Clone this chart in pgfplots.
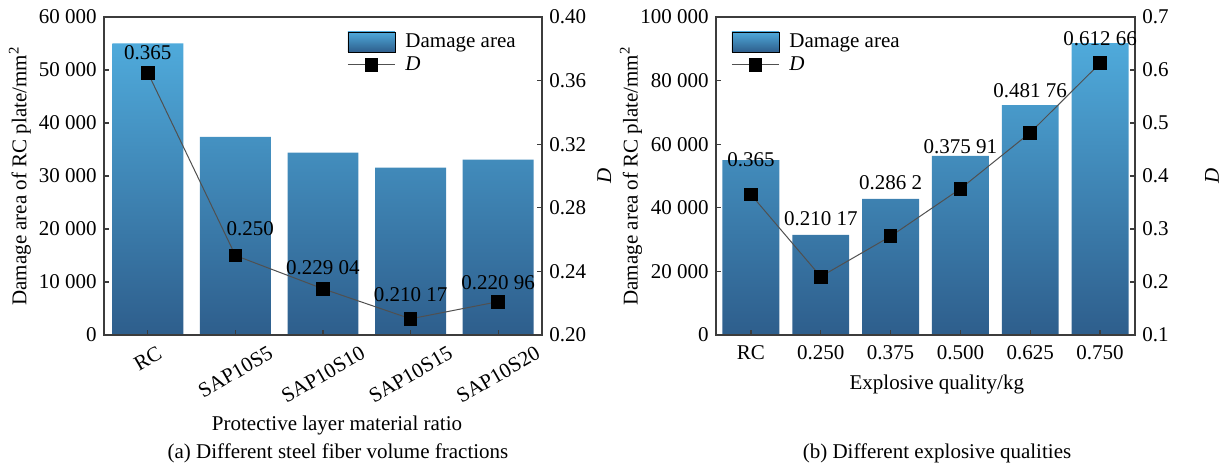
\documentclass[border=0pt]{standalone}
\usepackage{fontspec}
\setmainfont{Liberation Serif}
\usepackage{graphicx}
\usepackage{pgfplots}
\pgfplotsset{compat=1.18}
\definecolor{barTop}{RGB}{79,170,219}
\definecolor{barBot}{RGB}{46,94,140}
\definecolor{axgray}{RGB}{60,60,60}
\definecolor{lineGray}{RGB}{80,80,80}
\newcommand\fs{\fontsize{10.5}{12.6}\selectfont}
\pgfplotsset{
  base/.style={
    anchor=south west, scale only axis, height=159pt,
    scaled x ticks=false, scaled y ticks=false,
    axis line style={axgray, line width=0.65pt},
    major tick style={axgray, line width=0.65pt}, major tick length=2.6pt,
    tick align=inside,
    tick label style={font=\fs},
    label style={font=\fs},
    legend style={font=\fs, draw=none, fill=none, anchor=north west, cells={anchor=west}, row sep=-1pt, inner sep=0pt},
  },
  barlegend/.style={legend image code/.code={\fill[top color=barTop,bottom color=barBot] (0pt,-5pt) rectangle (23.5pt,5pt);}},
  dlegend/.style={legend image code/.code={\draw[mark repeat=2,mark phase=2,##1] plot coordinates {(0pt,0pt) (11.75pt,0pt) (23.5pt,0pt)};}},
  dline/.style={lineGray, line width=0.5pt, mark=square*, mark size=3.2pt, mark options={black, fill=black, solid}},
}
\begin{document}
\fs
\begin{tikzpicture}
\useasboundingbox (0,0) rectangle (613pt,234.5pt);
% ---------------- panel (a) ----------------
\begin{axis}[base, at={(52pt,67pt)}, width=219pt,
  xmin=-0.5, xmax=4.5, ymin=0, ymax=60000,
  xtick={0,1,2,3,4},
  xticklabels={\rotatebox{30}{RC},\rotatebox{30}{SAP10S5},\rotatebox{30}{SAP10S10},\rotatebox{30}{SAP10S15},\rotatebox{30}{SAP10S20}},
  xticklabel style={anchor=north, yshift=-1.5pt},
  ytick={0,10000,20000,30000,40000,50000,60000},
  yticklabels={0,10\ 000,20\ 000,30\ 000,40\ 000,50\ 000,60\ 000},
  xtick pos=left, ytick pos=left, axis on top,
  ylabel={Damage area of RC plate/mm\textsuperscript{2}},
  ylabel style={at={(axis description cs:-0.192,0.5)}, anchor=center},
  xlabel={Protective layer material ratio},
  xlabel style={at={(axis description cs:0.532,-0.283)}, anchor=center},
]
\addplot[ybar, bar width=0.81, bar shift=0pt, draw=none, top color=barTop, bottom color=barBot]
  coordinates {(0,55000) (1,37400) (2,34400) (3,31600) (4,33100)};
\end{axis}
\begin{axis}[base, at={(52pt,67pt)}, width=219pt,
  xmin=-0.5, xmax=4.5, ymin=0.2, ymax=0.4,
  axis x line=none, axis y line*=right,
  ytick={0.2,0.24,0.28,0.32,0.36,0.4},
  yticklabels={0.20,0.24,0.28,0.32,0.36,0.40},
  ylabel={\textit{D}},
  ylabel style={at={(axis description cs:1.142,0.5)}, anchor=center},
  legend style={at={(axis description cs:0.555,0.962)}},
]
\addlegendimage{barlegend}
\addlegendentry{\hspace{3pt}Damage area}
\addplot[dline, dlegend] coordinates {(0,0.365) (1,0.250) (2,0.22904) (3,0.21017) (4,0.22096)};
\addlegendentry{\hspace{3pt}\textit{D}}
\addplot[draw=none, mark=none, nodes near coords, point meta=explicit symbolic,
  every node near coord/.append style={anchor=center, font=\fs, inner sep=0pt}]
  coordinates {(0,0.3774)[0.365] (1.17,0.2667)[0.250] (2,0.2421)[0.229\ 04] (3,0.2252)[0.210\ 17] (4,0.2327)[0.220\ 96]};
\end{axis}
% ---------------- panel (b) ----------------
\begin{axis}[base, at={(358pt,67pt)}, width=209.5pt,
  xmin=-0.5, xmax=5.5, ymin=0, ymax=100000,
  xtick={0,1,2,3,4,5},
  xticklabels={RC,0.250,0.375,0.500,0.625,0.750},
  xticklabel style={anchor=north, yshift=-1.5pt},
  ytick={0,20000,40000,60000,80000,100000},
  yticklabels={0,20\ 000,40\ 000,60\ 000,80\ 000,100\ 000},
  xtick pos=left, ytick pos=left, axis on top,
  ylabel={Damage area of RC plate/mm\textsuperscript{2}},
  ylabel style={at={(axis description cs:-0.203,0.5)}, anchor=center},
  xlabel={Explosive quality/kg},
  xlabel style={at={(axis description cs:0.527,-0.157)}, anchor=center},
]
\addplot[ybar, bar width=0.815, bar shift=0pt, draw=none, top color=barTop, bottom color=barBot]
  coordinates {(0,55000) (1,31500) (2,42800) (3,56300) (4,72300) (5,91800)};
\end{axis}
\begin{axis}[base, at={(358pt,67pt)}, width=209.5pt,
  xmin=-0.5, xmax=5.5, ymin=0.1, ymax=0.7,
  axis x line=none, axis y line*=right,
  ytick={0.1,0.2,0.3,0.4,0.5,0.6,0.7},
  yticklabels={0.1,0.2,0.3,0.4,0.5,0.6,0.7},
  ylabel={\textit{D}},
  ylabel style={at={(axis description cs:1.184,0.5)}, anchor=center},
  legend style={at={(axis description cs:0.036,0.962)}},
]
\addlegendimage{barlegend}
\addlegendentry{\hspace{3pt}Damage area}
\addplot[dline, dlegend] coordinates {(0,0.365) (1,0.21017) (2,0.2862) (3,0.37591) (4,0.48176) (5,0.61266)};
\addlegendentry{\hspace{3pt}\textit{D}}
\addplot[draw=none, mark=none, nodes near coords, point meta=explicit symbolic,
  every node near coord/.append style={anchor=center, font=\fs, inner sep=0pt}]
  coordinates {(0,0.4302)[0.365] (1,0.3189)[0.210\ 17] (2,0.3868)[0.286\ 2] (3,0.4547)[0.375\ 91] (4,0.5604)[0.481\ 76] (5,0.6585)[0.612\ 66]};
\end{axis}
% captions
\node[font=\fs] at (169pt,8pt) {(a) Different steel fiber volume fractions};
\node[font=\fs] at (468.5pt,8pt) {(b) Different explosive qualities};
\end{tikzpicture}
\end{document}
